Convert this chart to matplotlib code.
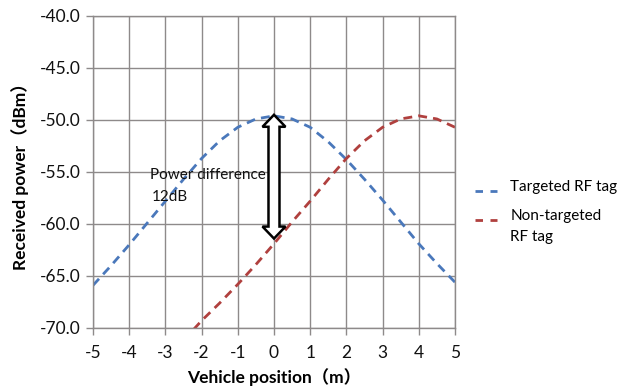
import matplotlib
matplotlib.use("Agg")
import matplotlib.pyplot as plt
from matplotlib.patches import Polygon
from matplotlib.lines import Line2D
from matplotlib.legend_handler import HandlerLine2D

plt.rcParams['font.family'] = ['Lato', 'Noto Sans CJK JP', 'DejaVu Sans']
plt.rcParams['axes.unicode_minus'] = False

# Received power vs. vehicle position
pos_targeted = [-5, -4.5, -4, -3.5, -3, -2.5, -2, -1.5, -1, -0.5, 0,
                0.5, 1, 1.5, 2, 2.5, 3, 3.5, 4, 4.5, 5]
pw_targeted = [-65.9, -64.0, -62.0, -59.9, -57.8, -55.7, -53.7, -52.0, -50.7, -49.9, -49.6,
               -49.9, -50.7, -52.1, -53.8, -55.7, -57.7, -59.8, -61.9, -63.8, -65.6]

pos_nontargeted = [-2.5, -2, -1.5, -1, -0.5, 0, 0.5, 1, 1.5, 2,
                   2.5, 3, 3.5, 4, 4.5, 5]
pw_nontargeted = [-71.2, -69.3, -67.6, -65.8, -63.9, -61.9, -59.8, -57.8, -55.7, -53.7,
                  -52.0, -50.7, -49.9, -49.6, -49.9, -50.7]

x_ticks = [-5, -4, -3, -2, -1, 0, 1, 2, 3, 4, 5]
y_ticks = [-70.0, -65.0, -60.0, -55.0, -50.0, -45.0, -40.0]

series_labels = ['Targeted RF tag', 'Non-targeted', 'RF tag']
blue = '#4a78bb'
red = '#b0403e'

arrow_x = 0.0
arrow_top = -49.5
arrow_bottom = -61.4

fig = plt.figure(figsize=(6.3, 3.9), dpi=100)
ax = fig.add_axes([0.1476, 0.159, 0.5746, 0.800])

grid_col = '#8e8a8a'
ax.plot(pos_targeted, pw_targeted, color=blue, lw=2.0, dashes=(3.2, 2.2))
ax.plot(pos_nontargeted, pw_nontargeted, color=red, lw=2.0, dashes=(3.2, 2.2))

ax.set_xlim(-5, 5)
ax.set_ylim(-70, -40)
ax.set_xticks(x_ticks)
ax.set_yticks(y_ticks)
ax.set_yticklabels([f"{v:.1f}" for v in y_ticks])
ax.grid(True, color=grid_col, lw=1.0)
ax.set_axisbelow(True)
for s in ax.spines.values():
    s.set_color(grid_col)
    s.set_linewidth(1.0)
ax.tick_params(axis='both', direction='out', length=5, width=1.0, color=grid_col,
               labelsize=12.5, labelcolor='#111111')
ax.tick_params(axis='x', pad=7)
ax.tick_params(axis='y', pad=4)

ax.set_xlabel('Vehicle position（m）', fontsize=12.5, fontweight='bold', labelpad=5)
ax.set_ylabel('Received power（dBm）', fontsize=12.5, fontweight='bold', labelpad=8)

# Hollow double-headed block arrow, sized in pixels around the data endpoints
fig.canvas.draw()
(px, py_top) = ax.transData.transform((arrow_x, arrow_top))
(_, py_bot) = ax.transData.transform((arrow_x, arrow_bottom))
hw_shaft, hw_head, head_len = 5.5, 11.5, 12.0
pts = [
    (px, py_top),
    (px + hw_head, py_top - head_len),
    (px + hw_shaft, py_top - head_len),
    (px + hw_shaft, py_bot + head_len),
    (px + hw_head, py_bot + head_len),
    (px, py_bot),
    (px - hw_head, py_bot + head_len),
    (px - hw_shaft, py_bot + head_len),
    (px - hw_shaft, py_top - head_len),
    (px - hw_head, py_top - head_len),
]
ax.add_patch(Polygon(pts, closed=True, transform=None, facecolor='white',
                     edgecolor='black', lw=1.8, joinstyle='miter', zorder=5))

ax.text(-3.43, -55.3, 'Power difference', fontsize=11, va='center', ha='left',
        color='#111111', zorder=3)
ax.text(-3.38, -57.4, '12dB', fontsize=11, va='center', ha='left',
        color='#111111', zorder=3)


class LoweredLine(HandlerLine2D):
    """Legend line sitting slightly below the text centre."""
    def create_artists(self, legend, orig_handle, xdescent, ydescent,
                       width, height, fontsize, trans):
        arts = super().create_artists(legend, orig_handle, xdescent, ydescent,
                                      width, height, fontsize, trans)
        for a in arts:
            a.set_ydata([y - 4.0 for y in a.get_ydata()])
        return arts


handles = [Line2D([], [], color=blue, lw=2.0, dashes=(2.7, 2.7)),
           Line2D([], [], color=red, lw=2.0, dashes=(2.7, 2.7))]
leg = fig.legend(handles, series_labels[:2], loc='upper left',
                 bbox_to_anchor=(0.754, 0.538), frameon=False,
                 fontsize=11, handlelength=1.45, handletextpad=0.85,
                 labelspacing=0.95, borderpad=0, borderaxespad=0,
                 handler_map={Line2D: LoweredLine()})

fig.canvas.draw()
bb = leg.get_texts()[1].get_window_extent()
cy = (bb.y0 + bb.y1) / 2 - 21
fig.text(bb.x0 / fig.bbox.width, cy / fig.bbox.height, series_labels[2],
         fontsize=11, va='center', ha='left', color='black')

fig.savefig('out.png', dpi=100)
